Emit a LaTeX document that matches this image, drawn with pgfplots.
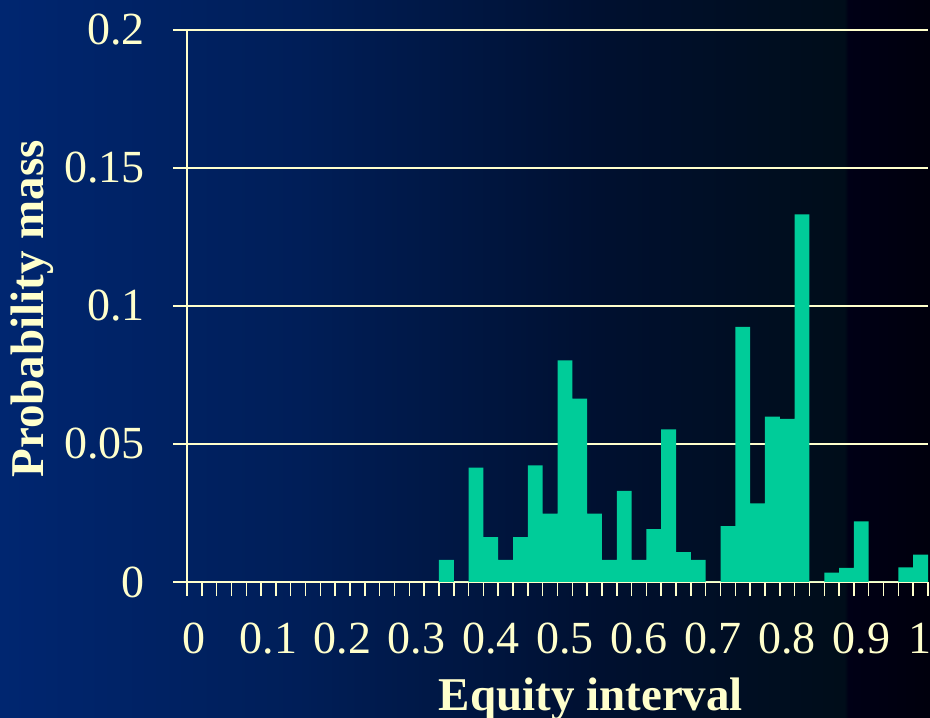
\documentclass[border=0pt]{standalone}
\usepackage{fontspec}
\setmainfont{Liberation Serif}
\usepackage{pgfplots}
\usepackage{pgfplotstable}
\pgfplotsset{compat=1.18}
\definecolor{cream}{RGB}{255,255,204}
\definecolor{barc}{RGB}{0,204,153}
\pgfdeclarehorizontalshading{bgshade}{100bp}{rgb(0bp)=(0,0.149,0.44); rgb(25bp)=(0,0.149,0.44); rgb(41bp)=(0,0.118,0.345); rgb(57.25bp)=(0,0.063,0.188); rgb(70.4bp)=(0,0.05,0.1); rgb(70.6bp)=(0,0,0.086); rgb(75bp)=(0,0,0.05); rgb(100bp)=(0,0,0.05)}

\pgfplotstableread{
x mass
0.34 0.0080
0.36 0
0.38 0.0414
0.40 0.0163
0.42 0.0080
0.44 0.0163
0.46 0.0423
0.48 0.0248
0.50 0.0803
0.52 0.0664
0.54 0.0248
0.56 0.0080
0.58 0.0330
0.60 0.0080
0.62 0.0192
0.64 0.0553
0.66 0.0108
0.68 0.0080
0.70 0
0.72 0.0202
0.74 0.0924
0.76 0.0285
0.78 0.0599
0.80 0.0591
0.82 0.1332
0.84 0
0.86 0.0034
0.88 0.0051
0.90 0.0220
0.92 0
0.94 0
0.96 0.0053
0.98 0.0099
1.00 0
}\massdata

\begin{document}
\begin{tikzpicture}
\useasboundingbox (0,0) rectangle (930pt,718pt);
\shade[shading=bgshade] (0,0) rectangle (930pt,718pt);
\begin{axis}[
  at={(187pt,136pt)}, anchor=south west,
  scale only axis, width=741pt, height=552pt,
  xmin=0, xmax=1, ymin=0, ymax=0.2,
  axis x line=bottom, axis y line=left,
  axis line style={-, cream, line width=1.5pt},
  tick style={cream, line width=1.5pt},
  tick align=outside, major tick length=14pt,
  xtick={0,0.02,...,1.001}, xticklabels={},
  extra x ticks={0.01,0.11,0.21,0.31,0.41,0.51,0.61,0.71,0.81,0.91,0.989},
  extra x tick labels={0,0.1,0.2,0.3,0.4,0.5,0.6,0.7,0.8,0.9,1},
  extra x tick style={major tick length=0pt, grid=none,
     xticklabel style={anchor=north, inner sep=0pt, yshift=-41pt}},
  ytick={0,0.05,0.1,0.15,0.2},
  yticklabels={0,0.05,0.1,0.15,0.2},
  yticklabel style={anchor=east, inner sep=0pt, xshift=-28pt},
  tick label style={font=\fontsize{46}{48}\selectfont, text=cream},
  /pgf/number format/assume math mode=true,
  ymajorgrids, major grid style={cream, line width=1.5pt},
  xlabel={Equity interval},
  ylabel={Probability mass},
  label style={font=\bfseries\fontsize{47}{50}\selectfont, text=cream, inner sep=0pt},
  xlabel style={at={(axis description cs:0.545,0)}, anchor=base, yshift=-128pt},
  ylabel style={at={(axis description cs:0,0.495)}, anchor=center, rotate=0, yshift=154.5pt},
  clip=false,
]
\addplot[ybar interval, fill=barc, draw=none] table[x=x, y=mass] {\massdata};
\end{axis}
\end{tikzpicture}
\end{document}
